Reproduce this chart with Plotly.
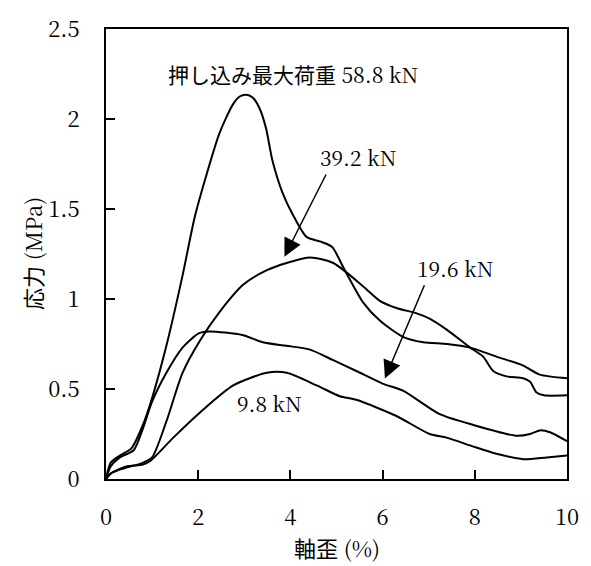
import plotly.graph_objects as go

# 押し込み最大荷重 58.8 kN
x_588 = [0, 0.1, 0.3, 0.55, 0.8, 1.0, 1.3, 1.66, 1.92, 2.18, 2.46, 2.75, 2.9, 3.04, 3.18, 3.33, 3.47, 3.61, 3.83,
         4.05, 4.35, 4.64, 4.9, 5.18, 5.58, 5.94, 6.44, 6.88, 7.4, 7.9, 8.47, 9.05, 9.41, 10]
y_588 = [0, 0.09, 0.13, 0.17, 0.30, 0.45, 0.73, 1.13, 1.45, 1.69, 1.92, 2.08, 2.125, 2.135, 2.12, 2.06, 1.95, 1.77, 1.59,
         1.47, 1.345, 1.32, 1.29, 1.16, 0.98, 0.88, 0.79, 0.76, 0.75, 0.73, 0.68, 0.63, 0.58, 0.56]

# 39.2 kN
x_392 = [0, 0.1, 0.4, 0.8, 1.0, 1.31, 1.66, 2.04, 2.47, 2.98, 3.49, 3.92, 4.43, 4.93, 5.58, 5.94, 6.3,
         6.74, 7.03, 7.39, 7.9, 8.18, 8.4, 8.69, 9.05, 9.2, 9.34, 9.5, 10]
y_392 = [0, 0.03, 0.06, 0.09, 0.12, 0.32, 0.59, 0.77, 0.93, 1.08, 1.16, 1.20, 1.23, 1.20, 1.07, 0.99, 0.95,
         0.92, 0.89, 0.83, 0.73, 0.68, 0.60, 0.57, 0.56, 0.54, 0.48, 0.465, 0.465]

# 19.6 kN
x_196 = [0, 0.1, 0.3, 0.6, 0.8, 1.0, 1.31, 1.66, 2.02, 2.24, 2.96, 3.4, 3.91, 4.41, 4.93, 5.43, 6.0,
         6.45, 7.24, 7.97, 8.91, 9.2, 9.41, 9.63, 10]
y_196 = [0, 0.07, 0.12, 0.16, 0.28, 0.43, 0.59, 0.73, 0.81, 0.82, 0.80, 0.76, 0.74, 0.72, 0.66, 0.60, 0.53,
         0.49, 0.36, 0.30, 0.24, 0.25, 0.27, 0.26, 0.21]

# 9.8 kN
x_98 = [0, 0.1, 0.44, 0.8, 0.96, 1.46, 2.04, 2.76, 3.49, 3.92, 4.57, 5.07, 5.43, 6.3, 7.02, 7.39, 7.97,
        8.47, 9.05, 9.56, 10]
y_98 = [0, 0.03, 0.07, 0.08, 0.10, 0.23, 0.37, 0.52, 0.59, 0.59, 0.52, 0.46, 0.44, 0.35, 0.25, 0.23, 0.18,
        0.14, 0.11, 0.12, 0.13]

x_ticks = [0, 2, 4, 6, 8, 10]
y_ticks = [0, 0.5, 1, 1.5, 2, 2.5]
y_tick_labels = ["0", "0.5", "1", "1.5", "2", "2.5"]

SERIF = "Noto Serif CJK JP"


def f(size=21):
    return dict(family=SERIF, size=size, color="black")


def cjk(s):
    return '<span style="font-family:Noto Sans CJK JP">' + s + '</span>'


fig = go.Figure()
for xs, ys in [(x_588, y_588), (x_392, y_392), (x_196, y_196), (x_98, y_98)]:
    fig.add_trace(go.Scatter(x=xs, y=ys, mode="lines",
                             line=dict(color="black", width=2, shape="spline", smoothing=0.7),
                             showlegend=False, hoverinfo="skip"))

# text labels
fig.add_annotation(x=4.06, y=2.25, xref="x", yref="y", showarrow=False,
                   text=cjk("押し込み最大荷重") + " 58.8 kN", font=f(21))
fig.add_annotation(x=5.46, y=1.79, xref="x", yref="y", showarrow=False, text="39.2 kN", font=f())
fig.add_annotation(x=7.57, y=1.17, xref="x", yref="y", showarrow=False, text="19.6 kN", font=f())
fig.add_annotation(x=3.55, y=0.42, xref="x", yref="y", showarrow=False, text="9.8 kN", font=f())

# arrows
for (tx, ty, hx, hy) in [(4.79, 1.70, 3.87, 1.235), (6.92, 1.085, 6.05, 0.558)]:
    fig.add_annotation(x=hx, y=hy, ax=tx, ay=ty, xref="x", yref="y", axref="x", ayref="y",
                       text="", showarrow=True, arrowhead=2, arrowsize=2.4, arrowwidth=1.5,
                       arrowcolor="black", standoff=0)

# axis titles
fig.add_annotation(x=0.5, y=-0.152, xref="paper", yref="paper", showarrow=False,
                   text=cjk("軸歪") + " (%)", xanchor="center", yanchor="middle", font=f(22))
fig.add_annotation(x=-0.1605, y=0.5, xref="paper", yref="paper", showarrow=False,
                   text=cjk("応力") + " (MPa)", textangle=-90, xanchor="center", yanchor="middle",
                   font=f(22))

fig.update_xaxes(range=[0, 10], tickvals=x_ticks, ticks="inside", ticklen=9, tickwidth=2,
                 tickcolor="black", showline=True, linewidth=2, linecolor="black", mirror=True,
                 showgrid=False, zeroline=False, ticklabelstandoff=18, ticklabeloverflow="allow",
                 tickfont=f(22))
fig.update_yaxes(range=[0, 2.5], tickvals=y_ticks, ticktext=y_tick_labels, ticks="inside",
                 ticklen=9, tickwidth=2, tickcolor="black", showline=True, linewidth=2,
                 linecolor="black", mirror=True, showgrid=False, zeroline=False,
                 ticklabelstandoff=20, ticklabeloverflow="allow", tickfont=f(22))

fig.update_layout(width=591, height=566, margin=dict(l=106, r=24, t=17, b=87),
                  plot_bgcolor="white", paper_bgcolor="white")

fig.write_html("out.html")
